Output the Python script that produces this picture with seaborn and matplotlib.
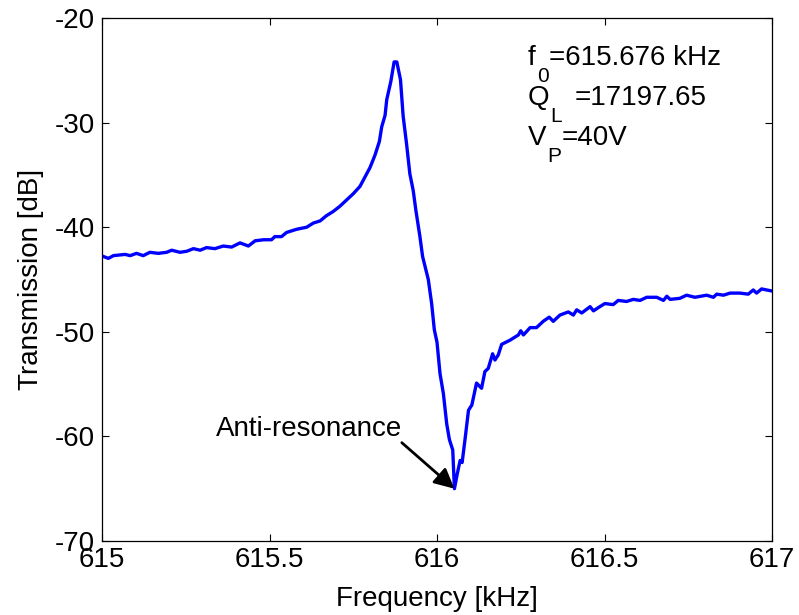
import matplotlib
matplotlib.use("Agg")
import matplotlib.pyplot as plt
import seaborn as sns
import pandas as pd

# Frequency [kHz] and transmission [dB]
freq_khz = [
    615.000, 615.019, 615.034, 615.069, 615.084, 615.103, 615.123, 615.143, 615.168, 615.193,
    615.208, 615.233, 615.253, 615.273, 615.293, 615.312, 615.337, 615.362, 615.387, 615.412,
    615.437, 615.457, 615.482, 615.506, 615.516, 615.536, 615.551, 615.581, 615.611, 615.631,
    615.651, 615.670, 615.690, 615.710, 615.730, 615.750, 615.770, 615.785, 615.800, 615.815,
    615.828, 615.835, 615.845, 615.850, 615.862, 615.872, 615.880, 615.891, 615.899, 615.909,
    615.919, 615.929, 615.937, 615.949, 615.957, 615.974, 615.984, 615.992, 616.000, 616.009,
    616.019, 616.029, 616.037, 616.047, 616.052, 616.061, 616.069, 616.075, 616.084, 616.094,
    616.104, 616.118, 616.133, 616.143, 616.153, 616.166, 616.173, 616.183, 616.193, 616.218,
    616.243, 616.250, 616.258, 616.278, 616.297, 616.317, 616.335, 616.347, 616.367, 616.392,
    616.407, 616.417, 616.432, 616.457, 616.467, 616.481, 616.501, 616.526, 616.541, 616.566,
    616.586, 616.606, 616.626, 616.656, 616.676, 616.686, 616.696, 616.725, 616.745, 616.770,
    616.805, 616.825, 616.835, 616.855, 616.875, 616.904, 616.929, 616.944, 616.954, 616.969,
    616.984, 617.000,
]
transmission_db = [
    -42.75, -42.98, -42.72, -42.60, -42.72, -42.50, -42.72, -42.40, -42.50, -42.40,
    -42.20, -42.40, -42.30, -42.05, -42.20, -41.95, -42.05, -41.80, -41.90, -41.50,
    -41.80, -41.30, -41.20, -41.20, -40.90, -40.90, -40.50, -40.20, -40.00, -39.60,
    -39.40, -38.90, -38.50, -38.00, -37.40, -36.80, -36.10, -35.20, -34.30, -33.10,
    -31.80, -30.40, -29.30, -27.80, -26.10, -24.20, -24.20, -25.90, -29.40, -32.00,
    -34.90, -36.50, -38.40, -40.90, -42.80, -45.00, -47.30, -49.80, -51.00, -54.00,
    -55.90, -58.80, -60.30, -61.30, -65.00, -63.50, -62.30, -62.50, -60.20, -57.50,
    -57.00, -54.90, -55.40, -53.80, -53.50, -52.10, -52.70, -52.20, -51.20, -50.80,
    -50.30, -49.90, -50.30, -49.60, -49.60, -49.00, -48.60, -49.00, -48.40, -48.10,
    -48.40, -47.90, -48.20, -47.60, -48.00, -47.70, -47.30, -47.40, -47.00, -47.10,
    -46.90, -47.00, -46.70, -46.70, -47.00, -46.60, -46.90, -46.80, -46.50, -46.70,
    -46.50, -46.70, -46.40, -46.50, -46.30, -46.30, -46.40, -46.00, -46.30, -45.90,
    -46.00, -46.10,
]

x_ticks = [615, 615.5, 616, 616.5, 617]
x_tick_labels = ["615", "615.5", "616", "616.5", "617"]
y_ticks = [-70, -60, -50, -40, -30, -20]
y_tick_labels = ["-70", "-60", "-50", "-40", "-30", "-20"]

info_main = ["f", "Q", "V"]
info_sub = ["0", "L", "P"]
info_rest = ["=615.676 kHz", "=17197.65", "=40V"]
annotation_label = "Anti-resonance"

sns.set_theme(style="ticks")
plt.rcParams["font.family"] = ["Liberation Sans", "DejaVu Sans"]
plt.rcParams["text.color"] = "black"
plt.rcParams["axes.labelcolor"] = "black"
plt.rcParams["xtick.color"] = "black"
plt.rcParams["ytick.color"] = "black"

df = pd.DataFrame({"Frequency [kHz]": freq_khz, "Transmission [dB]": transmission_db})

fig = plt.figure(figsize=(7.99, 6.15), dpi=100)
ax = fig.add_axes([102 / 799, 1 - 541 / 615, 670 / 799, 523 / 615])

sns.lineplot(data=df, x="Frequency [kHz]", y="Transmission [dB]", ax=ax,
             color="#0000ff", linewidth=2.4, estimator=None, sort=False)

ax.set_xlim(615, 617)
ax.set_ylim(-70, -20)
ax.set_xticks(x_ticks)
ax.set_xticklabels(x_tick_labels)
ax.set_yticks(y_ticks)
ax.set_yticklabels(y_tick_labels)

for s in ax.spines.values():
    s.set_visible(True)
    s.set_color("black")
    s.set_linewidth(0.9)

ax.tick_params(axis="both", which="major", direction="in", length=5, width=0.8,
               top=True, right=True, labelsize=20, colors="black")
ax.tick_params(axis="x", pad=4)
ax.tick_params(axis="y", pad=5)

ax.set_xlabel("Frequency [kHz]", fontsize=20, labelpad=10, color="black")
ax.set_ylabel("Transmission [dB]", fontsize=20, labelpad=8, color="black")

# info block: main letter, lowered subscript, then the value
base_ys = [-24.5, -28.3, -32.1]
rest_gaps = [0.3, 8.5, 0.3]
for m, sb, rest, yy, gap in zip(info_main, info_sub, info_rest, base_ys, rest_gaps):
    t1 = ax.text(616.272, yy, m, fontsize=20, ha="left", va="baseline", color="black")
    t2 = ax.annotate(sb, xy=(1, yy), xycoords=(t1, "data"), xytext=(0.7, -12.2),
                     textcoords="offset points", fontsize=15, ha="left", va="baseline",
                     color="black")
    ax.annotate(rest, xy=(1, yy), xycoords=(t2, "data"), xytext=(gap, 0),
                textcoords="offset points", fontsize=20, ha="left", va="baseline",
                color="black")

ax.text(615.340, -60.0, annotation_label, fontsize=20, ha="left", va="baseline", color="black")
ax.annotate("", xy=(616.052, -65.0), xytext=(615.895, -60.6),
            arrowprops=dict(arrowstyle="-|>", color="black", lw=2.0,
                            mutation_scale=30, shrinkA=0, shrinkB=0))

fig.savefig("out.png", dpi=100)
